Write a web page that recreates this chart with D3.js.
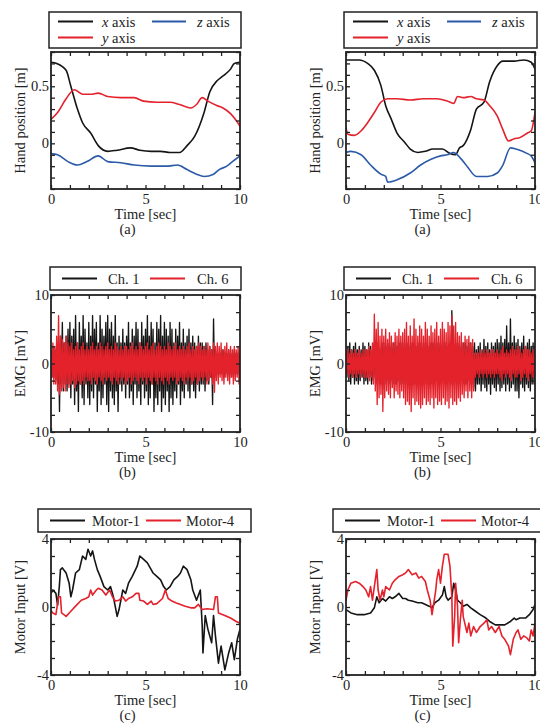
<!DOCTYPE html>
<html><head><meta charset="utf-8">
<script src="https://cdn.jsdelivr.net/npm/d3@7"></script>
<style>
body{margin:0;background:#fff}
svg{display:block}
text{font-family:"Liberation Serif","Times New Roman",serif;fill:#222}
</style>
</head><body>
<svg id="chart" width="540" height="728"></svg>
<script>
// ---------------- DATA ----------------
const timeTicks = [0,1,2,3,4,5,6,7,8,9,10];
const timeLabels = [0,5,10];
const handTicks = [-0.4,-0.3,-0.2,-0.1,0,0.1,0.2,0.3,0.4,0.5,0.6,0.7,0.8];
const handLabels = [0,0.5];
const emgTicks = [-10,-7.5,-5,-2.5,0,2.5,5,7.5,10];
const emgLabels = [-10,0,10];
const motorTicks = [-4,-3,-2,-1,0,1,2,3,4];
const motorLabels = [-4,0,4];

// Hand position, left column  [time, value]
const handLeftX = [[0,0.71],[0.3,0.70],[0.8,0.64],[1.05,0.5],[1.4,0.3],[1.67,0.18],[2.1,0.09],[2.5,-0.02],[3,-0.07],[3.5,-0.06],[4.2,-0.04],[4.7,-0.06],[5.3,-0.07],[5.8,-0.07],[6.3,-0.08],[6.8,-0.08],[7.2,-0.02],[7.6,0.06],[8.1,0.27],[8.4,0.45],[8.8,0.55],[9.1,0.59],[9.5,0.65],[9.7,0.70],[10,0.71]];
const handLeftY = [[0,0.21],[0.35,0.27],[0.8,0.39],[1.23,0.47],[1.67,0.43],[2.1,0.43],[2.5,0.44],[3,0.41],[3.7,0.40],[4.4,0.40],[4.9,0.37],[5.6,0.36],[6.3,0.36],[6.8,0.34],[7.4,0.31],[7.7,0.34],[8.0,0.40],[8.3,0.37],[8.8,0.33],[9.1,0.31],[9.5,0.26],[9.8,0.20],[10,0.15]];
const handLeftZ = [[0,-0.09],[0.35,-0.10],[0.9,-0.16],[1.4,-0.19],[1.9,-0.16],[2.5,-0.11],[3,-0.16],[3.7,-0.17],[4.4,-0.19],[5.3,-0.20],[6.1,-0.20],[6.7,-0.19],[7.2,-0.23],[7.7,-0.27],[8.1,-0.29],[8.6,-0.27],[8.9,-0.23],[9.3,-0.20],[9.6,-0.16],[10,-0.11]];

// Hand position, right column
const handRightX = [[0,0.73],[0.7,0.73],[1.14,0.70],[1.5,0.64],[1.84,0.51],[2.1,0.33],[2.4,0.21],[2.7,0.09],[3.1,0.01],[3.4,-0.05],[3.8,-0.08],[4.2,-0.07],[4.6,-0.05],[5.1,-0.05],[5.5,-0.09],[5.8,-0.10],[6.0,-0.04],[6.2,-0.02],[6.6,0.12],[6.9,0.30],[7.3,0.36],[7.6,0.54],[8.0,0.68],[8.3,0.72],[8.9,0.72],[9.4,0.73],[9.8,0.71],[10,0.65]];
const handRightY = [[0,0.14],[0.1,0.08],[0.44,0.07],[0.8,0.11],[1.14,0.18],[1.5,0.27],[1.84,0.36],[2.2,0.39],[2.7,0.39],[3.4,0.38],[4.1,0.39],[4.8,0.39],[5.35,0.37],[5.7,0.35],[5.9,0.41],[6.2,0.40],[6.6,0.41],[6.9,0.39],[7.3,0.38],[7.6,0.33],[8.0,0.24],[8.3,0.12],[8.6,0.02],[8.9,0.04],[9.2,0.05],[9.6,0.09],[9.8,0.11],[10,0.27]];
const handRightZ = [[0,-0.08],[0.26,-0.07],[0.8,-0.10],[1.3,-0.19],[1.84,-0.27],[2.1,-0.29],[2.2,-0.34],[2.7,-0.32],[3.4,-0.26],[3.95,-0.19],[4.5,-0.14],[5.0,-0.11],[5.35,-0.10],[5.7,-0.08],[6.05,-0.13],[6.4,-0.20],[6.9,-0.29],[7.5,-0.29],[8.0,-0.26],[8.3,-0.19],[8.7,-0.04],[9.0,-0.05],[9.6,-0.09],[9.8,-0.11],[10,-0.17]];

// EMG envelopes (peak values every 0.1 s, t = 0 ... 10)
const emgLeftCh1Up = [2,2.5,2,3, 3,4,6,3,4,5,
 6,4,5,7,3,6,4,7,5,3, 6,4,7,5,6,3,7,5,4,6, 7,5,6,4,7,3,4,3,5,3, 4,6,3,5,4,6,5,3,6,4,
 5,7,4,6,5,3,6,5,7,4, 6,5,4,6,5,3,5,4,6,3, 5,3,4,5,3,4,3,2.5,4,3, 3,2.5,3,2,2.5,2,6.5,2,1.5,1.5,
 1.5,2,1.5,1.5,2,1.5,1.5,2,1.5,1.5,1];
const emgLeftCh1Lo = [-2,-2,-2.5,-3,-7,-3,-4,-3,-4,-3,
 -5,-3,-6,-4,-7,-3,-5,-6,-3,-5, -6,-4,-5,-3,-7,-4,-6,-5,-3,-6, -7,-4,-5,-6,-4,-7,-3,-4,-3,-5, -3,-5,-4,-6,-3,-5,-4,-6,-3,-5,
 -4,-6,-5,-3,-7,-5,-6,-4,-7,-5, -6,-4,-7,-5,-6,-4,-5,-3,-6,-4, -5,-3,-4,-5,-3,-4,-5,-3,-4,-3, -3,-4,-2.5,-3,-2,-6,-2,-2,-1.5,-1.5,
 -1.5,-2,-1.5,-1.5,-2,-1.5,-2,-1.5,-1.5,-1.5,-1];
const emgLeftCh6Up = [2,3,2.5,4,7,4,3.5,3,4,3,
 2.5,3,2,2.5,3,2,2.5,3,2,2.5, 2,2.5,3,2,2.5,2,3,2.5,2,2.5, 3,2,2.5,2,3,2.5,2,2.5,2,2.5, 2.5,2,2.5,3,2,2.5,2,3,2.5,2,
 2.5,3,2,2.5,3,2,2.5,3,2.5,2, 2.5,2,3,2.5,2,2.5,3,2,2.5,2, 2.5,2,2.5,3,2,2.5,2,2.5,3,2.5, 2,2.5,2,3,2.5,2,3,2.5,3,2.5,
 3,2,2.5,3,2,2.5,2,2.5,2,2.5,2];
const emgLeftCh6Lo = [-2,-3,-3,-4,-4.5,-4,-3.5,-4,-3,-3.5,
 -3,-2.5,-3.5,-3,-2.5,-3,-2.5,-3,-2,-2.5, -2.5,-3,-2,-2.5,-3,-2,-2.5,-3,-2,-2.5, -2,-2.5,-3,-2,-2.5,-3,-2,-2.5,-2,-3, -2.5,-2,-3,-2.5,-2,-2.5,-3,-2,-2.5,-2,
 -3,-2,-2.5,-3,-2,-2.5,-3,-2,-2.5,-3, -2,-2.5,-3,-2,-2.5,-2,-3,-2.5,-2,-2.5, -3,-2,-2.5,-2,-3,-2.5,-2,-3,-2.5,-2, -2.5,-2,-3,-2.5,-2,-3,-4.2,-2.5,-3,-2,
 -2.5,-3,-2,-2.5,-3,-2,-3,-2.5,-2,-3,-2];
const emgRightCh1Up = [2,2.5,3,2,2.5,3,2,2.5,2,3,
 2.5,2,3,2.5,2,3,2.5,3,2,3, 3,2.5,3,3,2.5,3,3,2.5,3,3, 3,2.5,3,3,2.5,3,3,2.5,3,3, 3,2.5,3,3,2.5,3,3,2.5,3,3,
 3,2.5,3,3,2.5,3,7.7,2.5,3,3, 3,2.5,3,3,2.5,3,3,2.5,3,2, 2.5,3,2,3.5,2.5,3,2,3,2.5,3, 3.5,3,4,3,3.5,5.5,3,6.5,3,4,
 3,3.5,2.5,3,4,2.5,3,3.5,2.5,3,2.5];
const emgRightCh1Lo = [-2,-2.5,-3,-2,-3,-2.5,-3,-2.5,-2,-3,
 -2.5,-3,-2,-3,-2.5,-2,-3,-2.5,-3,-2, -3,-2.5,-3,-3,-2.5,-3,-3,-2.5,-3,-3, -3,-2.5,-3,-3,-2.5,-3,-3,-2.5,-3,-3, -3,-2.5,-3,-3,-2.5,-3,-3,-2.5,-3,-3,
 -3,-2.5,-3,-3,-2.5,-3,-3,-2.5,-3,-3, -3,-2.5,-3,-3,-2.5,-3,-3,-3.5,-4,-3, -3,-4,-3,-3.5,-4,-3,-4.5,-3,-3.5,-4, -3,-4,-3.5,-3,-4,-3,-4,-3.5,-3,-4,
 -4,-5,-3,-3.5,-4,-3,-3.5,-4,-3,-3,-2.5];
const emgRightCh6Up = [1.5,2,1.5,2,1.5,2,1.5,2,1.5,2,
 2,2,2.5,2,3,7.2,5,6,4,5, 4,5,3.5,4.5,4,3,4.5,4,5,4, 4.5,5,6,4,5.5,4,6.5,5,4,5.5, 5,4,6,5,4,5.5,4.5,5,6,4,
 5,6,5,4.5,6,5.5,7,5.5,6,4.5, 4,4.5,3,4,3.5,4,3,3.5,1.5,1.5, 1.5,2,1.5,2,1.5,2,1.5,2,2,1.5, 2,1.5,2,2.5,1.5,2,1.5,2,2.5,2,
 2,2.5,2,1.5,2,2.5,2,2,1.5,2,1.5];
const emgRightCh6Lo = [-1.5,-2,-1.5,-2,-1.5,-2,-1.5,-2,-1.5,-2,
 -2,-2,-2.5,-2,-3,-4,-6,-5,-4.5,-7, -5,-4,-4.5,-5,-3.5,-5,-4,-4.5,-5,-4, -5,-6,-5.5,-6,-7,-5,-6,-5.5,-6,-6.5, -6,-5,-6,-5.5,-6,-5,-6.5,-5,-6,-5.5,
 -6,-5,-6,-5.5,-6.5,-5,-6,-5.5,-6,-5, -5.5,-4.5,-5,-4,-5,-4,-5,-4,-2,-1.5, -2,-1.5,-2,-1.5,-2,-1.5,-2,-1.5,-2,-1.5, -1.5,-2,-2.5,-1.5,-2,-1.5,-2,-2.5,-1.5,-2,
 -2,-1.5,-2.5,-2,-1.5,-2,-2.5,-1.5,-2,-2,-1.5];

// Motor input [time, value]
const motorLeft1 = [[0,0.8],[0.1,1.0],[0.26,0.8],[0.35,0.1],[0.44,1.2],[0.5,2.2],[0.6,2.3],[0.8,2.0],[0.96,1.4],[1.05,0.6],[1.14,1.0],[1.3,2.0],[1.5,2.2],[1.67,3.0],[1.84,2.8],[1.96,3.4],[2.1,3.0],[2.2,3.3],[2.3,2.8],[2.45,2.2],[2.6,1.8],[2.8,1.2],[3.0,1.0],[3.15,1.2],[3.3,0.6],[3.5,-0.55],[3.6,-0.15],[3.8,1.0],[3.95,0.8],[4.1,1.4],[4.3,1.8],[4.56,2.4],[4.7,3.0],[4.9,2.8],[5.1,2.6],[5.3,2.2],[5.4,2.0],[5.6,1.8],[5.8,1.6],[5.96,1.2],[6.1,1.0],[6.3,1.2],[6.5,1.6],[6.7,1.8],[6.85,2.0],[7.0,2.4],[7.2,2.2],[7.4,1.6],[7.5,1.0],[7.7,0.4],[7.9,1.0],[8.0,-1.1],[8.04,-2.7],[8.16,-0.5],[8.3,-1.3],[8.5,-2.1],[8.6,-0.5],[8.7,-1.7],[8.86,-3.3],[9.0,-2.3],[9.2,-3.7],[9.4,-2.7],[9.56,-2.1],[9.7,-3.1],[9.86,-1.9],[10,-1.3]];
const motorLeft4 = [[0,-0.2],[0.1,-0.35],[0.26,-0.45],[0.4,0.6],[0.5,0.6],[0.56,-0.35],[0.8,-0.55],[1.05,-0.25],[1.3,0.05],[1.6,0.4],[1.84,0.5],[2.0,0.6],[2.1,1.0],[2.2,0.7],[2.4,1.0],[2.5,1.1],[2.7,1.0],[2.9,0.7],[3.1,1.0],[3.25,0.6],[3.4,0.35],[3.6,0.4],[3.8,0.6],[3.95,0.35],[4.1,0.5],[4.3,0.6],[4.5,0.8],[4.65,0.8],[4.7,0.4],[4.9,0.35],[5.1,0.15],[5.3,0.35],[5.4,0.15],[5.6,0.2],[5.9,0.5],[6.05,1.0],[6.2,0.5],[6.4,0.35],[6.6,0.25],[6.85,0.15],[7.1,0.05],[7.4,-0.05],[7.6,-0.05],[7.8,0.15],[8.0,-0.15],[8.25,-0.1],[8.6,-0.15],[8.7,0.6],[8.8,0.6],[8.86,-0.35],[9.1,-0.45],[9.5,-0.65],[9.8,-0.85],[10,-0.95]];
const motorRight1 = [[0,-0.15],[0.26,-0.35],[0.6,-0.45],[0.96,-0.45],[1.3,-0.35],[1.5,-0.05],[1.63,0.6],[1.75,0.25],[1.93,0.5],[2.1,0.35],[2.3,0.6],[2.45,0.5],[2.6,0.6],[2.8,0.8],[3.0,0.5],[3.15,0.5],[3.3,0.4],[3.5,0.35],[3.8,0.25],[4.0,0.25],[4.2,0.15],[4.4,0.05],[4.55,-0.05],[4.7,0.25],[4.9,0.4],[5.1,0.7],[5.2,1.2],[5.3,0.6],[5.4,0.4],[5.6,0.6],[5.7,1.4],[5.8,1.0],[5.9,0.4],[6.05,0.25],[6.2,0.05],[6.4,0.15],[6.6,-0.05],[6.85,-0.25],[7.1,-0.45],[7.4,-0.65],[7.6,-0.85],[7.9,-1.05],[8.15,-1.05],[8.4,-1.05],[8.7,-0.85],[8.9,-0.65],[9.0,-0.75],[9.2,-0.65],[9.5,-0.65],[9.7,-0.45],[9.9,-0.15],[10,0.15]];
const motorRight4 = [[0,0.4],[0.1,1.0],[0.26,1.4],[0.5,1.5],[0.7,1.4],[0.9,1.2],[1.05,1.0],[1.2,0.6],[1.3,1.2],[1.4,0.4],[1.5,1.2],[1.63,2.2],[1.7,1.0],[1.8,0.4],[1.93,1.0],[2.0,0.6],[2.1,1.2],[2.3,1.0],[2.45,1.4],[2.6,1.6],[2.8,1.8],[3.0,1.9],[3.15,2.0],[3.3,2.2],[3.5,1.9],[3.7,2.0],[3.85,1.7],[4.0,1.8],[4.2,1.5],[4.3,1.0],[4.45,0.4],[4.55,-0.45],[4.65,0.25],[4.75,1.0],[4.8,1.6],[4.9,2.2],[5.0,1.4],[5.1,2.4],[5.2,3.1],[5.4,3.1],[5.5,2.4],[5.6,0.6],[5.65,-2.3],[5.75,-0.55],[5.8,1.4],[5.9,0.05],[5.96,-2.1],[6.05,-0.75],[6.15,0.4],[6.2,-0.55],[6.4,-1.5],[6.5,-0.95],[6.6,-1.7],[6.75,-1.15],[6.9,-1.5],[7.1,-1.15],[7.3,-0.95],[7.45,-0.75],[7.55,-1.35],[7.7,-1.15],[7.9,-1.5],[8.1,-1.15],[8.25,-1.7],[8.4,-1.9],[8.6,-2.3],[8.7,-2.8],[8.85,-1.9],[9.0,-1.5],[9.1,-1.35],[9.25,-1.9],[9.4,-1.7],[9.55,-1.8],[9.7,-2.0],[9.8,-1.35],[9.9,-1.7],[10,-0.95]];

// ---------------- DRAWING ----------------
const BLACK = "#151515", RED = "#e3222b", BLUE = "#2b5ba8";
const svg = d3.select("#chart");
const W = 189;
const colX = [51, 346];

const rows = [
  {key:"a", top:52, h:137, dom:[-0.4,0.8], ticks:handTicks, labels:handLabels, ylab:"Hand position [m]",
   fmt:d=>d===0?"0":d3.format(".1f")(d), curve:d3.curveMonotoneX,
   legTop:12, legH:36, legX:[[49,192],[344,193]]},
  {key:"b", top:295, h:137, dom:[-10,10], ticks:emgTicks, labels:emgLabels, ylab:"EMG [mV]",
   fmt:d=>String(d), curve:d3.curveLinear, legTop:267, legH:23, legX:[[50,191],[344,191]]},
  {key:"c", top:539, h:136, dom:[-4,4], ticks:motorTicks, labels:motorLabels, ylab:"Motor Input [V]",
   fmt:d=>String(d), curve:d3.curveLinear, legTop:509, legH:23, legX:[[38,213],[333,213]]}
];

function emgZigzag(up, lo){
  const pts = [];
  up.forEach((u,i)=>{ pts.push([i*0.1,u]); pts.push([i*0.1+0.05,lo[i]]); });
  return pts;
}

const series = {
  a:[
    [{d:handLeftX,c:BLACK},{d:handLeftY,c:RED},{d:handLeftZ,c:BLUE}],
    [{d:handRightX,c:BLACK},{d:handRightY,c:RED},{d:handRightZ,c:BLUE}]
  ],
  b:[
    [{d:emgZigzag(emgLeftCh1Up,emgLeftCh1Lo),c:BLACK,emg:true},{d:emgZigzag(emgLeftCh6Up,emgLeftCh6Lo),c:RED,emg:true}],
    [{d:emgZigzag(emgRightCh1Up,emgRightCh1Lo),c:BLACK,emg:true},{d:emgZigzag(emgRightCh6Up,emgRightCh6Lo),c:RED,emg:true}]
  ],
  c:[
    [{d:motorLeft1,c:BLACK},{d:motorLeft4,c:RED}],
    [{d:motorRight1,c:BLACK},{d:motorRight4,c:RED}]
  ]
};

const legends = {
  a:[{row:0,l0:9,l1:44,c:BLACK,tx:53,it:"x",txt:" axis"},{row:0,l0:103,l1:137,c:BLUE,tx:148,it:"z",txt:" axis"},{row:1,l0:9,l1:44,c:RED,tx:53,it:"y",txt:" axis"}],
  b:[{row:0,l0:12,l1:47,c:BLACK,tx:58,txt:"Ch. 1"},{row:0,l0:100,l1:135,c:RED,tx:147,txt:"Ch. 6"}],
  c:[{row:0,l0:12,l1:47,c:BLACK,tx:54,txt:"Motor-1"},{row:0,l0:108,l1:143,c:RED,tx:148,txt:"Motor-4"}]
};

let clipId = 0;
rows.forEach(r=>{
  [0,1].forEach(ci=>{
    const x0 = colX[ci];
    const x = d3.scaleLinear().domain([0,10]).range([x0, x0+W]);
    const y = d3.scaleLinear().domain(r.dom).range([r.top+r.h, r.top]);
    const id = "clip"+(clipId++);
    svg.append("clipPath").attr("id",id).append("rect")
      .attr("x",x0).attr("y",r.top).attr("width",W).attr("height",r.h);

    const line = d3.line().x(d=>x(d[0])).y(d=>y(d[1])).curve(r.curve);
    const g = svg.append("g").attr("clip-path",`url(#${id})`);
    series[r.key][ci].forEach(s=>{
      g.append("path").datum(s.d).attr("d", line)
        .attr("fill","none").attr("stroke",s.c)
        .attr("stroke-width", s.emg?1.35:1.6).attr("stroke-linejoin","round");
    });

    // axes (inward ticks)
    const styleAxis = sel=>{
      sel.select(".domain").remove();
      sel.selectAll("line").attr("stroke","#222").attr("stroke-width",1.3);
      sel.selectAll("text").attr("font-family","Liberation Serif, Times New Roman, serif")
        .attr("font-size",14.5).attr("fill","#222");
    };
    svg.append("g").attr("transform",`translate(0,${r.top+r.h})`)
      .call(d3.axisBottom(x).tickValues(timeTicks).tickSize(-4).tickPadding(4)
        .tickFormat(d=>timeLabels.includes(d)?String(d):"")).call(styleAxis)
      .selectAll("text").attr("dy",null).attr("y",15);
    svg.append("g").attr("transform",`translate(0,${r.top})`)
      .call(d3.axisTop(x).tickValues(timeTicks).tickSize(-4).tickFormat("")).call(styleAxis);
    svg.append("g").attr("transform",`translate(${x0},0)`)
      .call(d3.axisLeft(y).tickValues(r.ticks).tickSize(-4).tickPadding(2)
        .tickFormat(d=>r.labels.some(v=>Math.abs(v-d)<1e-9)?r.fmt(d):"")).call(styleAxis);
    svg.append("g").attr("transform",`translate(${x0+W},0)`)
      .call(d3.axisRight(y).tickValues(r.ticks).tickSize(-4).tickFormat("")).call(styleAxis);

    // frame
    svg.append("rect").attr("x",x0).attr("y",r.top).attr("width",W).attr("height",r.h)
      .attr("fill","none").attr("stroke","#222").attr("stroke-width",1.8);

    // axis titles
    svg.append("text").attr("x",x0+W/2).attr("y",r.top+r.h+30)
      .attr("text-anchor","middle").attr("font-size",14.5).text("Time [sec]");
    svg.append("text").attr("x",x0+76.5).attr("y",r.top+r.h+45)
      .attr("text-anchor","middle").attr("font-size",14.5).text(`(${r.key})`);
    svg.append("text").attr("transform",`translate(${x0-26},${r.top+r.h/2}) rotate(-90)`)
      .attr("text-anchor","middle").attr("font-size",14.5).text(r.ylab);

    // legend
    const [lx, lw] = r.legX[ci];
    svg.append("rect").attr("x",lx).attr("y",r.legTop).attr("width",lw).attr("height",r.legH)
      .attr("fill","#fff").attr("stroke","#222").attr("stroke-width",1.5);
    legends[r.key].forEach(it=>{
      const cy = r.legTop + 9.5 + it.row*16 + (r.legH<30?2:0);
      svg.append("line").attr("x1",lx+it.l0).attr("x2",lx+it.l1).attr("y1",cy).attr("y2",cy)
        .attr("stroke",it.c).attr("stroke-width",2);
      const t = svg.append("text").attr("x",lx+it.tx).attr("y",cy+5).attr("font-size",14.5);
      if(it.it) t.append("tspan").attr("font-style","italic").text(it.it);
      t.append("tspan").text(it.txt);
    });
  });
});
</script>
</body></html>
